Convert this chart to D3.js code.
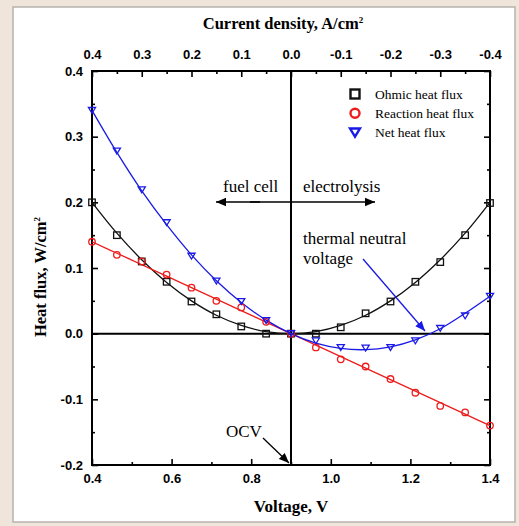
<!DOCTYPE html>
<html><head><meta charset="utf-8">
<script src="https://cdn.jsdelivr.net/npm/d3@7"></script>
<style>body{margin:0;background:#efe5db;} svg{display:block;}</style>
</head><body>
<script>
// ---- data ----
const voltage = [0.4, 0.4625, 0.525, 0.5875, 0.65, 0.7125, 0.775, 0.8375, 0.9, 0.9625, 1.025, 1.0875, 1.15, 1.2125, 1.275, 1.3375, 1.4];
const ohmic    = [0.20, 0.15, 0.11, 0.079, 0.049, 0.0295, 0.011, 0.0, 0.0, 0.0, 0.0097, 0.031, 0.049, 0.079, 0.109, 0.15, 0.199];
const reaction = [0.14, 0.12, 0.11, 0.09, 0.07, 0.05, 0.04, 0.018, 0.0, -0.021, -0.039, -0.05, -0.069, -0.09, -0.11, -0.12, -0.14];
const net      = [0.34, 0.278, 0.219, 0.169, 0.118, 0.08, 0.049, 0.02, 0.0, -0.011, -0.021, -0.022, -0.021, -0.011, 0.008, 0.027, 0.057];
const ohmicFit    = [0.20, 0.153, 0.1125, 0.078, 0.05, 0.028, 0.0125, 0.003, 0.0, 0.003, 0.0125, 0.028, 0.05, 0.078, 0.1125, 0.153, 0.20];
const reactionFit = [0.14, 0.1225, 0.105, 0.0875, 0.07, 0.0525, 0.035, 0.0175, 0.0, -0.0175, -0.035, -0.0525, -0.07, -0.0875, -0.105, -0.1225, -0.14];
const netFit      = [0.34, 0.276, 0.2175, 0.166, 0.12, 0.0806, 0.0475, 0.0206, 0.0, -0.0144, -0.0225, -0.0244, -0.02, -0.0094, 0.0075, 0.031, 0.057];
const xMajor = [0.4, 0.6, 0.8, 1.0, 1.2, 1.4];
const xMinor = [0.5, 0.7, 0.9, 1.1, 1.3];
const jMajor = [0.4, 0.3, 0.2, 0.1, 0.0, -0.1, -0.2, -0.3, -0.4];
const jMinor = [0.35, 0.25, 0.15, 0.05, -0.05, -0.15, -0.25, -0.35];
const yMajor = [-0.2, -0.1, 0.0, 0.1, 0.2, 0.3, 0.4];
const yMinor = [-0.15, -0.05, 0.05, 0.15, 0.25, 0.35];
const seriesNames = ["Ohmic heat flux", "Reaction heat flux", "Net heat flux"];
const colors = ["#111111", "#ee1c1c", "#1a1ae6"];

const W = 519, H = 526;
const svg = d3.select("body").append("svg").attr("width", W).attr("height", H);
svg.append("rect").attr("width", W).attr("height", H).attr("fill", "#efe5db");
svg.append("rect").attr("x", 13).attr("y", 7).attr("width", 502).attr("height", 515)
  .attr("fill", "#ffffff").attr("stroke", "#b8b2ae").attr("stroke-width", 1.5);

const L = 92, R = 490, T = 71, B = 465;
const x = d3.scaleLinear().domain([0.4, 1.4]).range([L, R]);
const j = d3.scaleLinear().domain([0.4, -0.4]).range([L, R]);
const y = d3.scaleLinear().domain([-0.2, 0.4]).range([B, T]);
const fmt = d => (Math.abs(d) < 1e-9 ? 0 : d).toFixed(1);
const sans = "'Liberation Sans', Arial, sans-serif";
const serif = "'Liberation Serif', 'Times New Roman', serif";

function styleAxis(g, labels) {
  g.select(".domain").remove();
  g.selectAll(".tick line").attr("stroke", "#000").attr("stroke-width", 1.6);
  g.selectAll(".tick text").attr("fill", "#000").attr("font-family", sans)
    .attr("font-size", 13).attr("font-weight", "bold");
  if (!labels) g.selectAll(".tick text").remove();
}
// bottom
svg.append("g").attr("transform", `translate(0,${B})`)
  .call(d3.axisBottom(x).tickValues(xMajor).tickSize(-6).tickPadding(9).tickFormat(fmt)).call(styleAxis, true);
svg.append("g").attr("transform", `translate(0,${B})`)
  .call(d3.axisBottom(x).tickValues(xMinor).tickSize(-3).tickFormat("")).call(styleAxis, false);
// top
svg.append("g").attr("transform", `translate(0,${T})`)
  .call(d3.axisTop(j).tickValues(jMajor).tickSize(-6).tickPadding(12).tickFormat(fmt)).call(styleAxis, true);
svg.append("g").attr("transform", `translate(0,${T})`)
  .call(d3.axisTop(j).tickValues(jMinor).tickSize(-3).tickFormat("")).call(styleAxis, false);
// left
svg.append("g").attr("transform", `translate(${L},0)`)
  .call(d3.axisLeft(y).tickValues(yMajor).tickSize(-6).tickPadding(9).tickFormat(fmt)).call(styleAxis, true);
svg.append("g").attr("transform", `translate(${L},0)`)
  .call(d3.axisLeft(y).tickValues(yMinor).tickSize(-3).tickFormat("")).call(styleAxis, false);
// right
svg.append("g").attr("transform", `translate(${R},0)`)
  .call(d3.axisRight(y).tickValues(yMajor).tickSize(-6).tickFormat("")).call(styleAxis, false);
svg.append("g").attr("transform", `translate(${R},0)`)
  .call(d3.axisRight(y).tickValues(yMinor).tickSize(-3).tickFormat("")).call(styleAxis, false);

// frame
svg.append("rect").attr("x", L).attr("y", T).attr("width", R - L).attr("height", B - T)
  .attr("fill", "none").attr("stroke", "#000").attr("stroke-width", 2);
// zero lines
svg.append("line").attr("x1", L).attr("x2", R).attr("y1", y(0)).attr("y2", y(0)).attr("stroke", "#000").attr("stroke-width", 2);
svg.append("line").attr("x1", x(0.9)).attr("x2", x(0.9)).attr("y1", T).attr("y2", B).attr("stroke", "#000").attr("stroke-width", 2);

// curves
const fits = [ohmicFit, reactionFit, netFit];
const pts = [ohmic, reaction, net];
const line = d3.line().x(d => x(d[0])).y(d => y(d[1])).curve(d3.curveCatmullRom);
fits.forEach((f, i) => {
  svg.append("path").datum(voltage.map((v, k) => [v, f[k]]))
    .attr("d", line).attr("fill", "none").attr("stroke", colors[i]).attr("stroke-width", 1.3);
});

function marker(g, type, cx, cy, s, color, sw) {
  if (type === 0) {
    g.append("rect").attr("x", cx - s / 2).attr("y", cy - s / 2).attr("width", s).attr("height", s)
      .attr("fill", "none").attr("stroke", color).attr("stroke-width", sw);
  } else if (type === 1) {
    g.append("circle").attr("cx", cx).attr("cy", cy).attr("r", s / 2)
      .attr("fill", "none").attr("stroke", color).attr("stroke-width", sw);
  } else {
    const h = s * 0.9, w = s * 1.1;
    g.append("path").attr("d", `M${cx - w / 2},${cy - h / 2}L${cx + w / 2},${cy - h / 2}L${cx},${cy + h / 2}Z`)
      .attr("fill", "none").attr("stroke", color).attr("stroke-width", sw);
  }
}
const mg = svg.append("g");
pts.forEach((p, i) => {
  voltage.forEach((v, k) => marker(mg, i, x(v), y(p[k]), 6.5, colors[i], 1.3));
});

// legend
const lg = svg.append("g");
seriesNames.forEach((n, i) => {
  const cy = 94 + i * 19.3;
  marker(lg, i, 355, cy, 9, colors[i], 2.4);
  lg.append("text").attr("x", 375).attr("y", cy + 4.5).text(n)
    .attr("font-family", serif).attr("font-size", 13.5).attr("fill", "#000");
});

// arrows
const defs = svg.append("defs");
function arrowDef(id, color) {
  defs.append("marker").attr("id", id).attr("viewBox", "0 0 10 10").attr("refX", 10).attr("refY", 5)
    .attr("markerWidth", 10).attr("markerHeight", 10).attr("markerUnits", "userSpaceOnUse").attr("orient", "auto")
    .append("path").attr("d", "M0,0.8L10,5L0,9.2Z").attr("fill", color);
}
arrowDef("ak", "#000");
arrowDef("ab", colors[2]);
svg.append("line").attr("x1", 260).attr("y1", 202).attr("x2", 216).attr("y2", 202)
  .attr("stroke", "#000").attr("stroke-width", 1.6).attr("marker-end", "url(#ak)");
svg.append("line").attr("x1", 250).attr("y1", 202).attr("x2", 375).attr("y2", 202)
  .attr("stroke", "#000").attr("stroke-width", 1.6).attr("marker-end", "url(#ak)");
svg.append("line").attr("x1", 363).attr("y1", 259).attr("x2", 425).attr("y2", 331)
  .attr("stroke", colors[2]).attr("stroke-width", 1.3).attr("marker-end", "url(#ab)");
svg.append("line").attr("x1", 263).attr("y1", 438).attr("x2", 289).attr("y2", 463)
  .attr("stroke", "#000").attr("stroke-width", 1.3).attr("marker-end", "url(#ak)");

const ann = (t, xx, yy) => svg.append("text").attr("x", xx).attr("y", yy).text(t)
  .attr("font-family", serif).attr("font-size", 17).attr("fill", "#000");
ann("fuel cell", 223, 192);
ann("electrolysis", 303, 192);
ann("thermal neutral", 303, 244);
ann("voltage", 303, 264);
ann("OCV", 226, 437);

// titles
const tt = svg.append("text").attr("x", 283).attr("y", 29).attr("text-anchor", "middle")
  .attr("font-family", serif).attr("font-size", 16.5).attr("font-weight", "bold").attr("fill", "#000");
tt.append("tspan").text("Current density, A/cm");
tt.append("tspan").attr("dy", -6).attr("font-size", 9).text("2");

svg.append("text").attr("x", 291).attr("y", 512).attr("text-anchor", "middle")
  .attr("font-family", serif).attr("font-size", 17).attr("font-weight", "bold").attr("fill", "#000")
  .text("Voltage, V");

const yt = svg.append("text").attr("transform", "translate(46,277) rotate(-90)").attr("text-anchor", "middle")
  .attr("font-family", serif).attr("font-size", 16.5).attr("font-weight", "bold").attr("fill", "#000");
yt.append("tspan").text("Heat flux, W/cm");
yt.append("tspan").attr("dy", -6).attr("font-size", 9).text("2");
</script>
</body></html>
